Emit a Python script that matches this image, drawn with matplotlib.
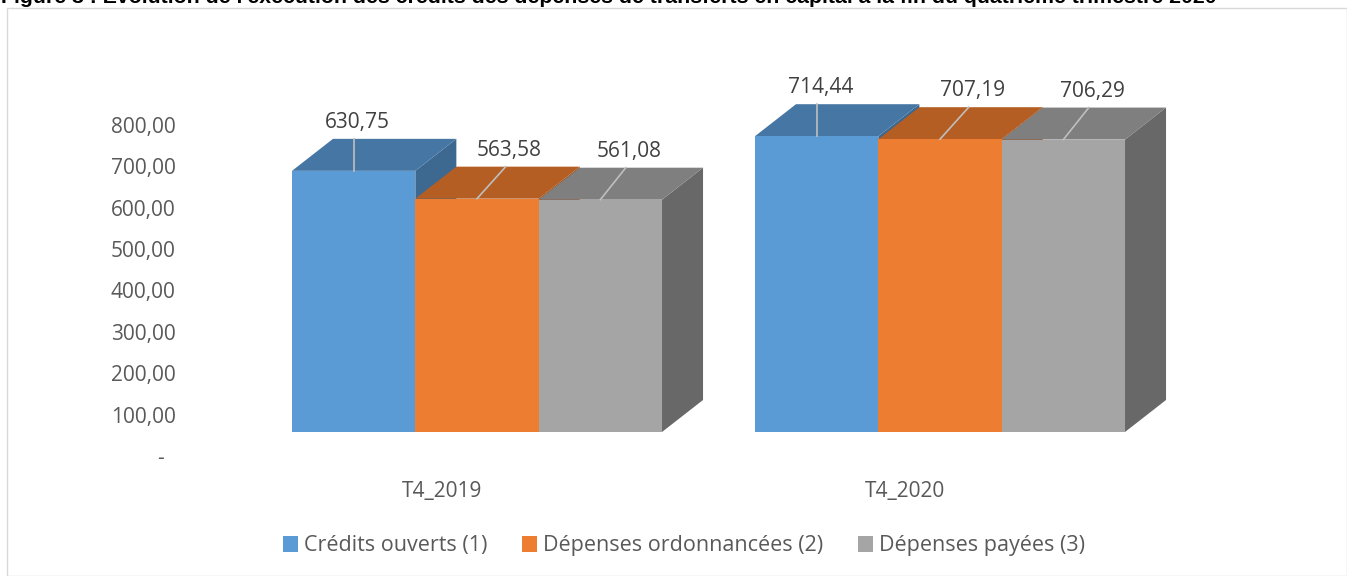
import matplotlib
matplotlib.use('Agg')
import matplotlib.pyplot as plt
from matplotlib.patches import Polygon, Patch, Rectangle
import numpy as np

plt.rcParams['font.family'] = ['Open Sans', 'DejaVu Sans']

title = ("Figure 3 : Evolution de l'exécution des crédits des dépenses de "
         "transferts en capital à la fin du quatrième trimestre 2020")
categories = ['T4_2019', 'T4_2020']
series = ['Crédits ouverts (1)', 'Dépenses ordonnancées (2)', 'Dépenses payées (3)']
credits_ouverts = [630.75, 714.44]
depenses_ordonnancees = [563.58, 707.19]
depenses_payees = [561.08, 706.29]
yticks = [0, 100, 200, 300, 400, 500, 600, 700, 800]
ytick_labels = ['-  ', '100,00', '200,00', '300,00', '400,00', '500,00',
                '600,00', '700,00', '800,00']

values = [credits_ouverts, depenses_ordonnancees, depenses_payees]
front = ['#5B9BD5', '#ED7D31', '#A5A5A5']
top = ['#4676A3', '#B45E23', '#7F7F7F']
side = ['#3D6890', '#9E5320', '#686868']
text_col = '#595959'

# 3d look (data units)
w = 0.2664        # bar width
dx = 0.0886       # depth in x
dy = 77.3         # depth in y
floor = 58.0      # front face starts above the axis zero
lbl_shift = [0.0, 0.062, 0.055]

fig = plt.figure(figsize=(13.47, 5.76), dpi=100)
fig.patches.append(Rectangle((7 / 1347, 0), 1 - 7 / 1347, 1 - 8 / 576,
                             transform=fig.transFigure, fill=False,
                             edgecolor='#D9D9D9', linewidth=1))
# title is cut at the top edge, as in the source page
fig.text(0.001, 1 - 3 / 576, title, fontsize=15.3, fontweight='bold',
         family='Liberation Sans', va='baseline', ha='left')

ax = fig.add_axes([180 / 1347, 106 / 576, 1160 / 1347, 430 / 576])
ax.set_xlim((180 - 477) / 463, (1340 - 477) / 463)
ax.set_ylim(-33.8, 1004.8)
for s in ax.spines.values():
    s.set_visible(False)

for i in range(len(categories)):
    for j in range(len(series)):
        v = values[j][i]
        x0 = i - 1.5 * w + j * w
        x1 = x0 + w
        y0 = floor
        y1 = floor + v
        ax.add_patch(Polygon([(x1, y0), (x1 + dx, y0 + dy), (x1 + dx, y1 + dy), (x1, y1)],
                             closed=True, facecolor=side[j], edgecolor='none'))
        ax.add_patch(Polygon([(x0, y1), (x0 + dx, y1 + dy), (x1 + dx, y1 + dy), (x1, y1)],
                             closed=True, facecolor=top[j], edgecolor='none'))
        ax.add_patch(Polygon([(x0, y0), (x1, y0), (x1, y1), (x0, y1)],
                             closed=True, facecolor=front[j], edgecolor='none'))
        xc = x0 + w / 2
        xb = xc + lbl_shift[j]
        ax.plot([xc, xb], [y1, y1 + dy], color='#BFBFBF', lw=1.2)
        ax.text(xb + 0.008, y1 + dy + 14, f'{v:.2f}'.replace('.', ','),
                ha='center', va='bottom', fontsize=15, color='#404040')

ax.set_yticks(yticks)
ax.set_yticklabels(ytick_labels)
ax.set_xticks(np.arange(len(categories)) - 0.075)
ax.set_xticklabels(categories)
ax.tick_params(axis='both', length=0, labelsize=15, labelcolor=text_col)
ax.tick_params(axis='y', pad=3)
ax.tick_params(axis='x', pad=8)

handles = [Patch(facecolor=c, edgecolor='none') for c in front]
fig.legend(handles, series, loc='center', bbox_to_anchor=(684 / 1347, 1 - 546 / 576),
           ncol=3, frameon=False, fontsize=15.5, labelcolor=text_col,
           handlelength=0.7, handleheight=0.7, handletextpad=0.3,
           columnspacing=1.6)

fig.savefig('out.png', dpi=100)
